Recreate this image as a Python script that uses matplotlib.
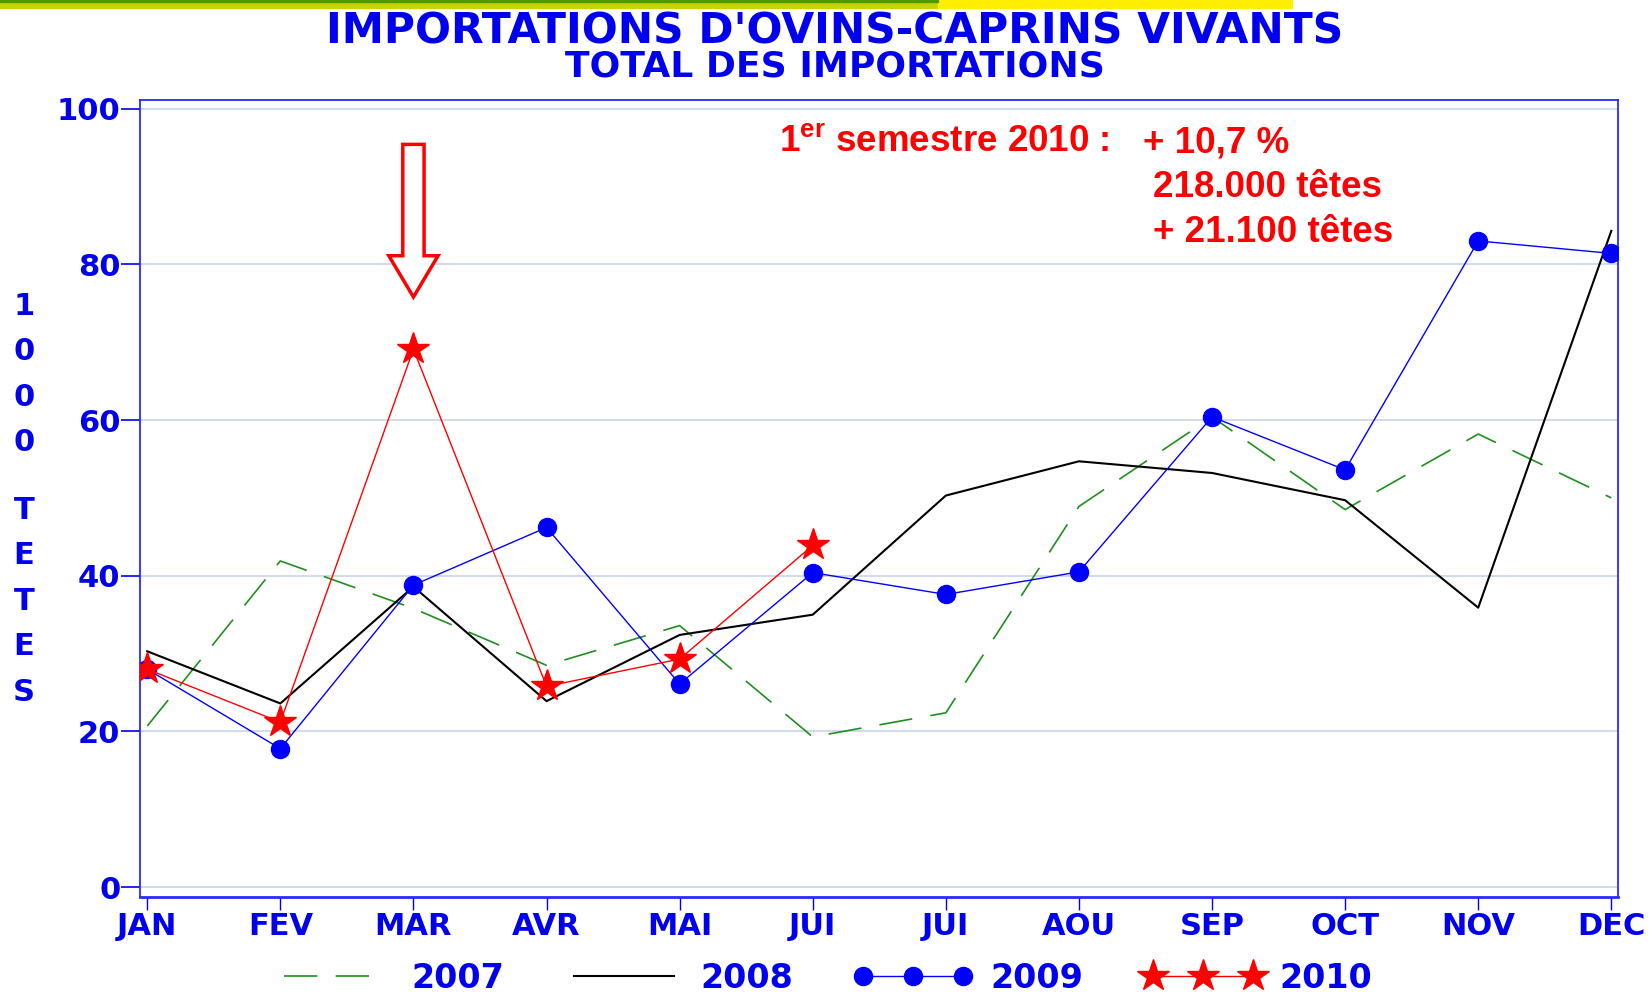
import numpy as np
import matplotlib
matplotlib.use("Agg")
import matplotlib.pyplot as plt
from matplotlib.patches import Rectangle, FancyArrow

# data (milliers de tetes)
mois = ["JAN", "FEV", "MAR", "AVR", "MAI", "JUI", "JUI", "AOU", "SEP", "OCT", "NOV", "DEC"]
v2007 = [20.7, 41.9, 35.8, 28.5, 33.6, 19.3, 22.4, 48.9, 60.4, 48.5, 58.2, 50.0]
v2008 = [30.3, 23.6, 38.6, 23.9, 32.4, 35.0, 50.3, 54.7, 53.2, 49.7, 35.9, 84.3]
v2009 = [28.0, 17.8, 38.8, 46.2, 26.1, 40.4, 37.6, 40.5, 60.4, 53.6, 83.0, 81.4]
v2010 = [28.0, 21.2, 69.1, 25.8, 29.3, 43.9]
yticks = [0, 20, 40, 60, 80, 100]

plt.rcParams['mathtext.fontset'] = 'custom'
plt.rcParams['mathtext.rm'] = 'Liberation Sans:bold'
plt.rcParams['mathtext.bf'] = 'Liberation Sans:bold'

BLUE = "#0000ee"

fig = plt.figure(figsize=(16.5, 9.92), dpi=100)
ax = fig.add_axes([0.0848, 0.0962, 0.8958, 0.8030])

x = np.arange(len(mois))
ax.plot(x, v2007, color="#1f8f1f", lw=1.2, dashes=(20, 11), label="2007", zorder=2)
ax.plot(x, v2008, color="black", lw=1.5, label="2008", zorder=3)
ax.plot(x, v2009, color="blue", lw=1.0, marker="o", ms=13, mfc="blue", mec="blue",
        label="2009", zorder=4)
ax.plot(x[:len(v2010)], v2010, color="red", lw=1.0, marker="*", ms=24, mfc="red",
        mec="red", label="2010", zorder=5)

ax.set_xlim(-0.055, 11.05)
ax.set_ylim(-1.2, 101.1)
ax.set_yticks(yticks)
ax.set_xticks(x)
ax.set_xticklabels(mois)
ax.yaxis.grid(True, color="#c8d4e8", lw=1.2)
ax.set_axisbelow(True)
for s in ax.spines.values():
    s.set_color("#2a2aff")
    s.set_linewidth(1.3)
ax.spines['bottom'].set_linewidth(2)
ax.tick_params(axis='y', colors=BLUE, length=14, width=1.2, pad=0, labelsize=22)
ax.tick_params(axis='x', colors=BLUE, length=9, width=1.0, pad=2, labelsize=22)
for lab in ax.get_xticklabels() + ax.get_yticklabels():
    lab.set_fontweight("bold")
    lab.set_color(BLUE)

# fleche creuse sur mars
ax.add_patch(FancyArrow(2, 95.4, 0, -19.6, width=0.16, head_width=0.37, head_length=5.3,
                        length_includes_head=True, fc="white", ec="red", lw=2.5, zorder=6))

# titres
fig.text(0.506, 0.9565, "IMPORTATIONS D'OVINS-CAPRINS VIVANTS", ha="center", va="baseline",
         fontsize=30.5, fontweight="bold", color=BLUE)
fig.text(0.506, 0.9225, "TOTAL DES IMPORTATIONS", ha="center", va="baseline",
         fontsize=26, fontweight="bold", color=BLUE)

# axe vertical
fig.text(0.0145, 0.6225, "1\n0\n0\n0", ha="center", va="center", fontsize=22,
         fontweight="bold", color=BLUE, linespacing=1.72)
fig.text(0.0145, 0.394, "T\nE\nT\nE\nS", ha="center", va="center", fontsize=22,
         fontweight="bold", color=BLUE, linespacing=1.72)

# annotation
rfont = dict(fontsize=26.5, fontweight="bold", color="red", family="Liberation Sans", va="center")
fig.text(0.472, 0.856, r"1$^{\mathbf{er}}$ semestre 2010 :", ha="left", **rfont)
fig.text(0.693, 0.856, "+ 10,7 %", ha="left", **rfont)
fig.text(0.699, 0.8105, "218.000 têtes", ha="left", **rfont)
fig.text(0.699, 0.766, "+ 21.100 têtes", ha="left", **rfont)

# bandeau du haut
fig.patches.append(Rectangle((0, 0.992), 0.5685, 0.008, transform=fig.transFigure,
                             color="#c8d400", zorder=1))
fig.patches.append(Rectangle((0, 0.998), 0.5685, 0.002, transform=fig.transFigure,
                             color="#4f9a00", zorder=2))
fig.patches.append(Rectangle((0.5685, 0.992), 0.2145, 0.008, transform=fig.transFigure,
                             color="#ffee00", zorder=1))

leg = fig.legend(loc="center", bbox_to_anchor=(0.499, 0.0135), ncol=4, frameon=False,
                 handlelength=3.6, handletextpad=0.5, columnspacing=1.8, numpoints=3,
                 prop={"weight": "bold", "size": 24})
for t in leg.get_texts():
    t.set_color(BLUE)

fig.savefig("out.png", dpi=100)
